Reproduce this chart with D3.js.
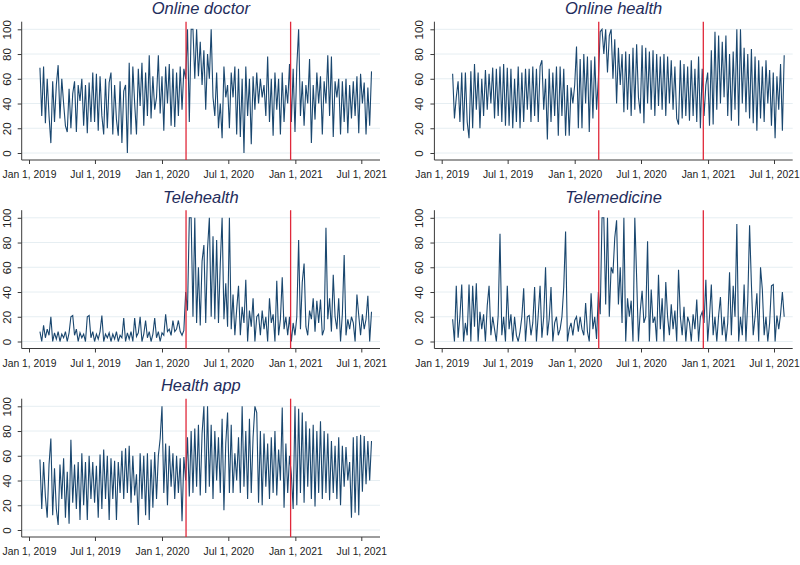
<!DOCTYPE html>
<html>
<head>
<meta charset="utf-8">
<script src="https://cdn.jsdelivr.net/npm/d3@7"></script>
<style>
  html, body { margin: 0; padding: 0; background: #fff; }
  text { font-family: "Liberation Sans", Arial, sans-serif; }
</style>
</head>
<body>
<svg id="chart" width="800" height="565"></svg>
<script>
// ---------- data ----------
const titles = ["Online doctor", "Online health", "Telehealth", "Telemedicine", "Health app"];
const firstDate = "2019-01-31";
const stepDays = 5;
const xTickLabels = ["Jan 1, 2019", "Jul 1, 2019", "Jan 1, 2020", "Jul 1, 2020", "Jan 1, 2021", "Jul 1, 2021"];
const xTickDates = ["2019-01-01", "2019-07-01", "2020-01-01", "2020-07-01", "2021-01-01", "2021-07-01"];
const yTicks = [0, 20, 40, 60, 80, 100];
const eventDates = ["2020-03-07", "2020-12-19"];

const onlineDoctor = [
  69, 30, 70, 24, 60, 30, 8, 58, 25, 55,
  71, 28, 60, 40, 22, 17, 52, 20, 48, 58,
  17, 55, 42, 60, 22, 55, 16, 57, 25, 65,
  25, 64, 18, 62, 30, 15, 60, 20, 57, 65,
  15, 55, 27, 14, 58, 8, 50, 55, 0, 73,
  15, 70, 40, 15, 68, 38, 73, 22, 65, 30,
  79, 28, 62, 35, 45, 79, 32, 62, 18, 70,
  40, 72, 22, 68, 21, 65, 30, 70, 35, 68,
  60, 100, 25, 100, 100, 60, 100, 62, 90, 55,
  83, 35, 80, 60, 100, 45, 30, 65, 20, 40,
  12, 70, 45, 55, 20, 65, 45, 70, 15, 68,
  13, 60, 0, 70, 30, 60, 7, 62, 35, 65,
  40, 60, 45, 55, 30, 78, 25, 60, 14, 65,
  35, 60, 15, 65, 25, 55, 40, 72, 25, 68,
  17, 70, 100, 30, 58, 22, 55, 40, 76, 8,
  55, 27, 65, 40, 62, 15, 58, 40, 79, 30,
  78, 13, 58, 45, 60, 15, 58, 25, 60, 16,
  55, 28, 58, 30, 62, 16, 64, 40, 57, 15,
  53, 22, 66
];
const onlineHealth = [
  64, 28, 45, 58, 25, 65, 18, 65, 25, 12,
  66, 20, 72, 35, 65, 20, 60, 30, 67, 35,
  64, 40, 69, 28, 68, 30, 70, 25, 72, 22,
  69, 22, 68, 20, 60, 25, 70, 20, 65, 25,
  68, 35, 68, 25, 70, 30, 68, 25, 70, 75,
  35, 60, 11, 68, 25, 65, 30, 70, 14, 70,
  30, 68, 14, 55, 14, 53, 40, 55, 86, 20,
  76, 20, 80, 40, 78, 17, 75, 28, 78, 35,
  60, 98, 100, 80, 100, 65, 95, 100, 60, 92,
  40, 85, 55, 80, 33, 82, 35, 80, 30, 85,
  35, 88, 45, 32, 87, 24, 85, 40, 82, 35,
  83, 30, 80, 38, 78, 35, 80, 30, 78, 40,
  75, 35, 70, 28, 23, 75, 28, 72, 30, 70,
  26, 75, 30, 68, 25, 78, 20, 68, 30, 55,
  65, 22, 83, 23, 98, 35, 95, 40, 90, 45,
  95, 30, 80, 26, 82, 35, 100, 22, 100, 40,
  85, 33, 80, 28, 84, 24, 78, 18, 75, 28,
  70, 25, 75, 40, 67, 22, 65, 12, 62, 35,
  72, 18, 79
];
const telehealth = [
  8, 0, 13, 3, 10, 5, 20, 0, 7, 2,
  8, 0, 6, 3, 8, 0, 7, 20, 21, 5,
  10, 0, 7, 3, 6, 0, 20, 21, 3, 8,
  0, 6, 2, 8, 21, 0, 6, 3, 7, 0,
  6, 2, 8, 0, 5, 3, 19, 0, 7, 2,
  8, 0, 19, 4, 7, 20, 0, 6, 17, 3,
  8, 0, 6, 19, 3, 8, 0, 7, 5, 22,
  8, 10, 5, 17, 8, 10, 17, 8, 5, 9,
  40, 25, 100, 100, 20, 100, 15, 60, 13, 65,
  78, 15, 75, 100, 20, 85, 18, 82, 15, 63,
  100, 18, 47, 12, 100, 10, 38, 5, 26, 45,
  5, 28, 15, 50, 0, 25, 12, 35, 0, 20,
  22, 5, 25, 10, 20, 0, 35, 15, 22, 0,
  49, 5, 18, 52, 10, 20, 5, 20, 0, 15,
  5, 20, 82, 10, 48, 63, 12, 5, 25, 18,
  35, 8, 33, 15, 34, 5, 10, 92, 18, 35,
  8, 54, 20, 10, 35, 0, 22, 70, 5, 18,
  10, 20, 15, 0, 38, 21, 5, 22, 10, 18,
  37, 0, 24
];
const telemedicine = [
  18, 0, 45, 3, 20, 46, 0, 15, 5, 46,
  0, 45, 12, 47, 0, 24, 10, 22, 0, 29,
  45, 5, 20, 10, 0, 21, 87, 5, 20, 0,
  45, 10, 22, 0, 20, 5, 0, 8, 20, 43,
  0, 20, 21, 5, 15, 44, 0, 22, 45, 3,
  20, 60, 5, 18, 44, 0, 15, 20, 5, 10,
  20, 44, 89, 0, 10, 15, 5, 17, 20, 8,
  20, 10, 5, 31, 8, 0, 39, 10, 20, 2,
  40, 22, 100, 100, 30, 100, 20, 60, 55, 84,
  98, 30, 60, 15, 100, 0, 35, 20, 33, 0,
  100, 52, 0, 25, 41, 15, 20, 81, 0, 42,
  15, 20, 0, 54, 10, 35, 0, 48, 20, 5,
  30, 10, 25, 0, 58, 20, 5, 28, 0, 20,
  15, 0, 22, 10, 34, 0, 20, 24, 15, 50,
  0, 20, 46, 5, 20, 0, 21, 36, 5, 20,
  0, 15, 56, 5, 45, 20, 95, 0, 20, 5,
  46, 0, 33, 94, 46, 5, 20, 39, 0, 60,
  42, 5, 20, 0, 15, 45, 46, 0, 21, 10,
  22, 40, 20
];
const healthApp = [
  57, 17, 55, 27, 10, 53, 74, 12, 50, 17,
  4, 53, 25, 58, 10, 47, 5, 73, 22, 53,
  17, 55, 8, 62, 20, 55, 8, 60, 25, 55,
  22, 52, 10, 61, 17, 65, 25, 60, 8, 58,
  25, 56, 8, 55, 30, 64, 25, 66, 30, 68,
  22, 60, 28, 45, 4, 62, 25, 60, 12, 62,
  8, 57, 18, 63, 25, 60, 74, 100, 30, 70,
  20, 68, 35, 62, 25, 60, 30, 58, 7, 59,
  40, 75, 27, 80, 30, 82, 35, 85, 28, 78,
  100, 30, 100, 35, 85, 25, 80, 40, 75, 30,
  90, 16, 70, 95, 30, 85, 30, 62, 40, 75,
  30, 100, 35, 80, 25, 90, 30, 75, 100, 95,
  22, 80, 20, 78, 35, 70, 25, 75, 30, 80,
  28, 65, 40, 99, 18, 70, 30, 60, 45, 17,
  100, 20, 98, 30, 95, 22, 88, 35, 82, 25,
  85, 19, 80, 30, 88, 25, 80, 30, 78, 24,
  72, 30, 68, 25, 75, 20, 68, 35, 67, 40,
  55, 10, 75, 14, 76, 12, 77, 31, 76, 37,
  72, 40, 72
];
const seriesList = [onlineDoctor, onlineHealth, telehealth, telemedicine, healthApp];

// ---------- layout ----------
const svg = d3.select("#chart");
svg.append("rect").attr("width", 800).attr("height", 565).attr("fill", "#fff");

const parse = d3.utcParse("%Y-%m-%d");
const start = parse(firstDate);

const colOffsets = [0, 412.7];
const rowOffsets = [0, 188.5, 377];
const plotLeft = 21.7, plotRight = 380, plotTop = 21.7, plotBottom = 160;

const navy = "#1a476f";
const red = "#e0283a";
const grid = "#e6eef2";
const axisCol = "#3a3a3a";
const labelFont = "Liberation Sans, Arial, sans-serif";

seriesList.forEach((vals, k) => {
  const col = k % 2, row = Math.floor(k / 2);
  const g = svg.append("g")
    .attr("transform", `translate(${colOffsets[col]},${rowOffsets[row]})`);

  const x = d3.scaleUtc()
    .domain([parse(xTickDates[0]), parse(xTickDates[5])])
    .range([29, 361.3]);
  const y = d3.scaleLinear().domain([0, 100]).range([153, 29.3]);

  // gridlines
  g.append("g").selectAll("line").data(yTicks).join("line")
    .attr("x1", plotLeft).attr("x2", plotRight)
    .attr("y1", d => y(d)).attr("y2", d => y(d))
    .attr("stroke", grid).attr("stroke-width", 1);

  // y axis
  const yAxis = g.append("g").attr("transform", `translate(${plotLeft},0)`)
    .call(d3.axisLeft(y).tickValues(yTicks).tickSize(4).tickPadding(2));
  yAxis.select(".domain").attr("d", `M0,${plotTop}V${plotBottom}`).attr("stroke", axisCol);
  yAxis.selectAll(".tick line").attr("stroke", axisCol);
  yAxis.selectAll(".tick text")
    .attr("x", null).attr("dy", null)
    .attr("transform", "translate(-11,0) rotate(-90)")
    .attr("text-anchor", "middle")
    .attr("y", 0)
    .attr("font-size", 11.5).attr("fill", "#222")
    .style("font-family", labelFont);

  // x axis
  const xAxis = g.append("g").attr("transform", `translate(0,${plotBottom})`)
    .call(d3.axisBottom(x).tickValues(xTickDates.map(parse))
      .tickFormat((d, i) => xTickLabels[i]).tickSize(4).tickPadding(7));
  xAxis.select(".domain").attr("d", `M${plotLeft},0H${plotRight}`).attr("stroke", axisCol);
  xAxis.selectAll(".tick line").attr("stroke", axisCol);
  xAxis.selectAll(".tick text")
    .attr("font-size", 10.3).attr("fill", "#222")
    .style("font-family", labelFont);

  // data line
  const pts = vals.map((v, i) => ({ date: d3.utcDay.offset(start, i * stepDays), v }));
  const line = d3.line().x(d => x(d.date)).y(d => y(d.v));
  g.append("path").datum(pts)
    .attr("d", line)
    .attr("fill", "none")
    .attr("stroke", navy)
    .attr("stroke-width", 1.1)
    .attr("stroke-linejoin", "miter");

  // event lines
  g.append("g").selectAll("line").data(eventDates.map(parse)).join("line")
    .attr("x1", d => x(d)).attr("x2", d => x(d))
    .attr("y1", plotTop).attr("y2", plotBottom)
    .attr("stroke", red).attr("stroke-width", 1.3);

  // title
  g.append("text")
    .attr("x", (plotLeft + plotRight) / 2)
    .attr("y", 14)
    .attr("text-anchor", "middle")
    .attr("font-size", 16.5)
    .attr("font-style", "italic")
    .attr("fill", "#1f2d5c")
    .text(titles[k]);
});
</script>
</body>
</html>
